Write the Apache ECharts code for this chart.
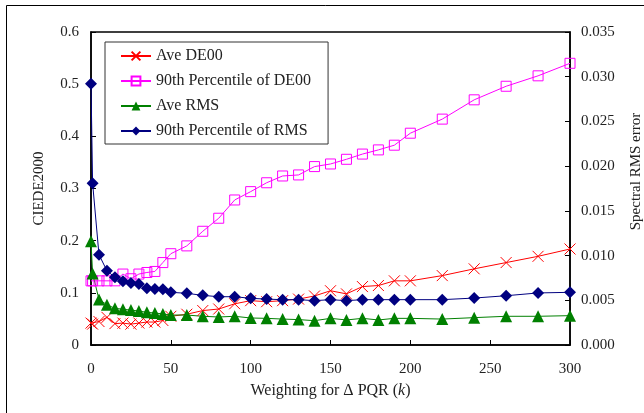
<!DOCTYPE html>
<html>
<head>
<meta charset="UTF-8">
<title>CIEDE2000 / Spectral RMS</title>
<script src="https://cdn.jsdelivr.net/npm/echarts@6/dist/echarts.min.js"></script>
<style>
	body { margin: 0; background: #fff; }
	#chart { width: 644px; height: 413px; }
</style>
</head>
<body>
	<div id="chart"></div>
	<script type="text/javascript">
		// weighting k
		var kValues = [0, 1, 5, 10, 15, 20, 25, 30, 35, 40, 45, 50, 60, 70, 80, 90, 100,
				110, 120, 130, 140, 150, 160, 170, 180, 190, 200, 220, 240, 260, 280, 300];
		// left axis (CIEDE2000)
		var aveDE00 = [0.042, 0.040, 0.045, 0.053, 0.041, 0.042, 0.040, 0.042, 0.044, 0.044,
				0.047, 0.055, 0.059, 0.066, 0.069, 0.079, 0.085, 0.083, 0.085, 0.088, 0.094,
				0.104, 0.098, 0.112, 0.114, 0.123, 0.123, 0.133, 0.146, 0.158, 0.170, 0.184];
		var p90DE00 = [0.123, 0.123, 0.123, 0.123, 0.123, 0.136, 0.127, 0.136, 0.139, 0.141,
				0.158, 0.175, 0.190, 0.218, 0.243, 0.278, 0.294, 0.311, 0.324, 0.326, 0.342,
				0.347, 0.356, 0.366, 0.374, 0.383, 0.406, 0.433, 0.470, 0.496, 0.516, 0.540];
		// right axis (spectral RMS error)
		var aveRMS = [0.0116, 0.0080, 0.0051, 0.0045, 0.0041, 0.0040, 0.0039, 0.0038, 0.00365,
				0.00358, 0.00347, 0.00335, 0.00335, 0.00321, 0.00313, 0.00321, 0.00302, 0.00298,
				0.0029, 0.00284, 0.00272, 0.00298, 0.0028, 0.00298, 0.0028, 0.00298, 0.00298,
				0.0029, 0.00306, 0.00321, 0.00321, 0.00328];
		var p90RMS = [0.0292, 0.0181, 0.0101, 0.0083, 0.00757, 0.00712, 0.00693, 0.00683,
				0.00634, 0.00626, 0.00624, 0.00589, 0.00578, 0.00555, 0.0054, 0.0054, 0.00522,
				0.00513, 0.00507, 0.00507, 0.00496, 0.00507, 0.00496, 0.00507, 0.00507,
				0.00507, 0.00507, 0.00507, 0.00525, 0.00551, 0.00582, 0.00589];

		var xTicks = [0, 50, 100, 150, 200, 250, 300];

		function pairs(ys) {
			var out = [];
			for (var i = 0; i < kValues.length; i++) {
				out.push([kValues[i], ys[i]]);
			}
			return out;
		}

		var font = 'Liberation Serif';
		var txt = '#222';

		var chart = echarts.init(document.getElementById('chart'));
		chart.setOption({
			animation : false,
			textStyle : { fontFamily : font },
			graphic : [ {
				type : 'rect',
				shape : { x : 6.5, y : 5.5, width : 800, height : 600 },
				style : { fill : 'none', stroke : '#000', lineWidth : 1 }
			} ],
			grid : {
				left : 91,
				top : 32,
				width : 479,
				height : 313,
				outerBoundsMode : 'none',
				show : true,
				borderColor : '#000',
				borderWidth : 1.5,
				backgroundColor : 'transparent'
			},
			legend : {
				orient : 'vertical',
				left : 105,
				top : 42,
				padding : [ 6, 17, 5, 15 ],
				itemWidth : 30,
				itemHeight : 11,
				itemGap : 9,
				borderColor : '#333',
				borderWidth : 1,
				textStyle : { fontFamily : font, fontSize : 16, color : txt },
				data : [ 'Ave DE00', '90th Percentile of DE00', 'Ave RMS', '90th Percentile of RMS' ]
			},
			xAxis : {
				type : 'value',
				min : xTicks[0],
				max : xTicks[xTicks.length - 1],
				interval : 50,
				name : 'Weighting for \u0394 PQR ({i|k})',
				nameLocation : 'middle',
				nameGap : 38,
				nameTextStyle : {
					fontFamily : font, fontSize : 16, color : txt,
					rich : { i : { fontFamily : font, fontSize : 16, fontStyle : 'italic', color : txt } }
				},
				axisLine : { lineStyle : { color : '#000', width : 1.5 } },
				axisTick : { inside : true, length : 5, lineStyle : { color : '#000' } },
				axisLabel : { margin : 17, fontSize : 15, color : txt, fontFamily : font },
				splitLine : { show : false }
			},
			yAxis : [ {
				type : 'value',
				min : 0,
				max : 0.6,
				interval : 0.1,
				name : 'CIEDE2000',
				nameLocation : 'middle',
				nameGap : 44,
				nameTextStyle : { fontFamily : font, fontSize : 15, color : txt },
				axisLine : { show : true, lineStyle : { color : '#000', width : 1.5 } },
				axisTick : { show : true, inside : true, length : 5, lineStyle : { color : '#000' } },
				axisLabel : { margin : 12, fontSize : 15, color : txt, fontFamily : font },
				splitLine : { show : false }
			}, {
				type : 'value',
				position : 'right',
				min : 0,
				max : 0.035,
				interval : 0.005,
				name : 'Spectral RMS error',
				nameLocation : 'middle',
				nameGap : 59,
				nameTextStyle : { fontFamily : font, fontSize : 15, color : txt, padding : [ 0, 0, 0, 34 ] },
				axisLine : { show : true, lineStyle : { color : '#000', width : 1.5 } },
				axisTick : { show : true, inside : true, length : 5, lineStyle : { color : '#000' } },
				axisLabel : {
					margin : 11, fontSize : 15, color : txt, fontFamily : font,
					formatter : function(v) { return v.toFixed(3); }
				},
				splitLine : { show : false }
			} ],
			series : [ {
				name : 'Ave DE00',
				type : 'line',
				yAxisIndex : 0,
				symbol : 'path://M0,0L10,10M10,0L0,10',
				symbolSize : 11,
				lineStyle : { color : '#ff0000', width : 1 },
				itemStyle : { color : '#ff0000', borderColor : '#ff0000', borderWidth : 1 },
				data : pairs(aveDE00)
			}, {
				name : '90th Percentile of DE00',
				type : 'line',
				yAxisIndex : 0,
				symbol : 'rect',
				symbolSize : 10,
				lineStyle : { color : '#ff00ff', width : 1 },
				itemStyle : { color : 'rgba(255,255,255,0)', borderColor : '#ff00ff', borderWidth : 1 },
				data : pairs(p90DE00)
			}, {
				name : 'Ave RMS',
				type : 'line',
				yAxisIndex : 1,
				symbol : 'triangle',
				symbolSize : 12,
				lineStyle : { color : '#008000', width : 1 },
				itemStyle : { color : '#008000' },
				data : pairs(aveRMS)
			}, {
				name : '90th Percentile of RMS',
				type : 'line',
				yAxisIndex : 1,
				symbol : 'diamond',
				symbolSize : 12,
				lineStyle : { color : '#000080', width : 1 },
				itemStyle : { color : '#000080' },
				data : pairs(p90RMS)
			} ]
		});
	</script>
</body>
</html>
